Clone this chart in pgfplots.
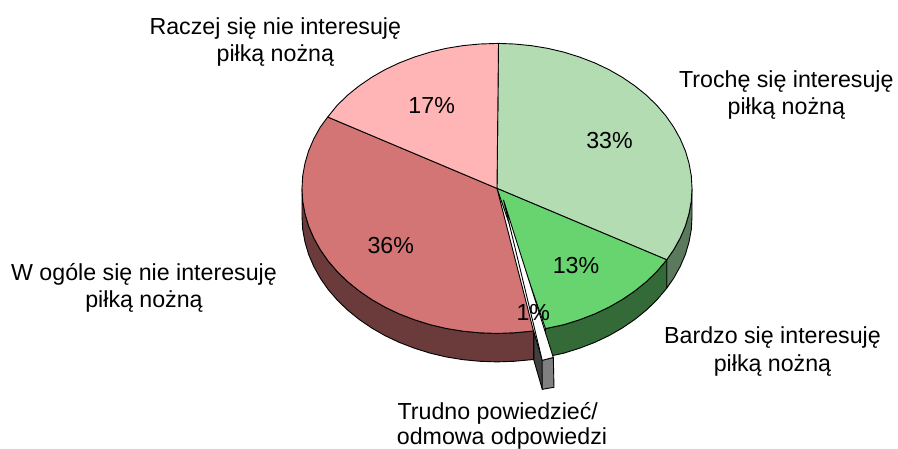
\documentclass[border=0pt]{standalone}
\usepackage{pgfplots}
\pgfplotsset{compat=1.18}
\usepackage{fontspec}
\setmainfont{Liberation Sans}
\definecolor{cL}{HTML}{B3DCB3}
\definecolor{cM}{HTML}{68D470}
\definecolor{cR}{HTML}{D47575}
\definecolor{cP}{HTML}{FFB5B5}
\definecolor{sL}{HTML}{5B7A5D}
\definecolor{sM}{HTML}{336A38}
\definecolor{sR}{HTML}{6B3A3A}
\definecolor{gF}{HTML}{808080}
\definecolor{gD}{HTML}{404040}
\tikzset{lbl/.style={anchor=base, font=\fontsize{23.2}{27}\selectfont, inner sep=0pt, black}}
\begin{document}
\begin{tikzpicture}
\useasboundingbox (0,0) rectangle (898pt,449pt);
\clip (0,0) rectangle (898pt,449pt);
\begin{axis}[
  at={(0,0)}, anchor=south west,
  width=898pt, height=449pt, scale only axis,
  xmin=0, xmax=898, ymin=0, ymax=449, y dir=reverse,
  hide axis, clip=false,
  every axis plot/.append style={draw=black, line width=0.9pt, line join=round, mark=none},
]
% side walls
\addplot[fill=sL] coordinates {(692,188.4)(691.3,201)(689,213.6)(685.4,225.9)(680.2,238)(673.7,249.7)(666.7,259.8)
 (666.7,288.3)(673.7,278.2)(680.2,266.5)(685.4,254.4)(689,242.1)(691.3,229.5)(692,216.9)} -- cycle;
\addplot[fill=sM] coordinates {(666.7,259.8)(656.7,271.6)(646.4,281.6)(634.9,290.9)(622.3,299.5)(608.9,307.2)(594.5,314)(579.4,319.8)(563.7,324.7)(545.5,328.6)
 (545.5,357.1)(563.7,353.2)(579.4,348.3)(594.5,342.5)(608.9,335.7)(622.3,328)(634.9,319.4)(646.4,310.1)(656.7,300.1)(666.7,288.3)} -- cycle;
\addplot[fill=sR] coordinates {(533.5,331)(514,332.8)(497,333.4)(480,332.8)(463.1,331.2)(446.5,328.5)(430.3,324.7)(414.6,319.8)(399.5,314)(385.1,307.2)(371.7,299.5)(359.1,290.9)(347.6,281.6)(337.3,271.6)(328.1,260.9)(320.3,249.7)(313.8,238)(308.6,225.9)(305,213.6)(302.7,201)(302,188.4)
 (302,216.9)(302.7,229.5)(305,242.1)(308.6,254.4)(313.8,266.5)(320.3,278.2)(328.1,289.4)(337.3,300.1)(347.6,310.1)(359.1,319.4)(371.7,328)(385.1,335.7)(399.5,342.5)(414.6,348.3)(430.3,353.2)(446.5,357)(463.1,359.7)(480,361.3)(497,361.9)(514,361.3)(533.5,359.5)} -- cycle;
% top faces
\addplot[fill=cL] coordinates {(497,188.4)(498.5,43.4)(514,44)(530.9,45.6)(547.5,48.3)(563.7,52.1)(579.4,57)(594.5,62.8)(608.9,69.6)(622.3,77.3)(634.9,85.9)(646.4,95.2)(656.7,105.2)(665.9,115.9)(673.7,127.1)(680.2,138.8)(685.4,150.9)(689,163.2)(691.3,175.8)(692,188.4)(691.3,201)(689,213.6)(685.4,225.9)(680.2,238)(673.7,249.7)(666.7,259.8)} -- cycle;
\addplot[fill=cM] coordinates {(497,188.4)(666.7,259.8)(656.7,271.6)(646.4,281.6)(634.9,290.9)(622.3,299.5)(608.9,307.2)(594.5,314)(579.4,319.8)(563.7,324.7)(545.5,328.6)} -- cycle;
\addplot[fill=cR] coordinates {(497,188.4)(533.5,331)(514,332.8)(497,333.4)(480,332.8)(463.1,331.2)(446.5,328.5)(430.3,324.7)(414.6,319.8)(399.5,314)(385.1,307.2)(371.7,299.5)(359.1,290.9)(347.6,281.6)(337.3,271.6)(328.1,260.9)(320.3,249.7)(313.8,238)(308.6,225.9)(305,213.6)(302.7,201)(302,188.4)(302.7,175.8)(305,163.2)(308.6,150.9)(313.8,138.8)(320.3,127.1)(327.7,117)} -- cycle;
\addplot[fill=cP] coordinates {(497,188.4)(327.7,117)(337.3,105.2)(347.6,95.2)(359.1,85.9)(371.7,77.3)(385.1,69.6)(399.5,62.8)(414.6,57)(430.3,52.1)(446.5,48.3)(463.1,45.6)(480,44)(498.5,43.4)} -- cycle;
% exploded slice
\addplot[fill=gD] coordinates {(533.8,331.5)(542.2,360.3)(542.3,389.3)(533.8,360)} -- cycle;
\addplot[fill=gF] coordinates {(542.2,360.3)(553.3,357.5)(554,387.3)(542.3,389.3)} -- cycle;
\addplot[fill=white] coordinates {(503.5,200)(553.3,357.5)(542.2,360.3)} -- cycle;
% labels
\node[lbl] at (axis cs:275.3,34.5) {Raczej się nie interesuję};
\node[lbl] at (axis cs:275.3,61.2) {piłką nożną};
\node[lbl] at (axis cs:786.3,87.5) {Trochę się interesuję};
\node[lbl] at (axis cs:786.3,114.4) {piłką nożną};
\node[lbl] at (axis cs:144,281) {W ogóle się nie interesuję};
\node[lbl] at (axis cs:144,307.5) {piłką nożną};
\node[lbl] at (axis cs:772.5,344) {Bardzo się interesuję};
\node[lbl] at (axis cs:772.5,371.5) {piłką nożną};
\node[lbl] at (axis cs:497.8,420) {Trudno powiedzieć/};
\node[lbl] at (axis cs:502,444) {odmowa odpowiedzi};
\node[lbl] at (axis cs:431.7,113.5) {17\%};
\node[lbl] at (axis cs:609.5,149) {33\%};
\node[lbl] at (axis cs:390.8,253.5) {36\%};
\node[lbl] at (axis cs:576,274) {13\%};
\node[lbl] at (axis cs:533.3,321) {1\%};
\end{axis}
\end{tikzpicture}
\end{document}
